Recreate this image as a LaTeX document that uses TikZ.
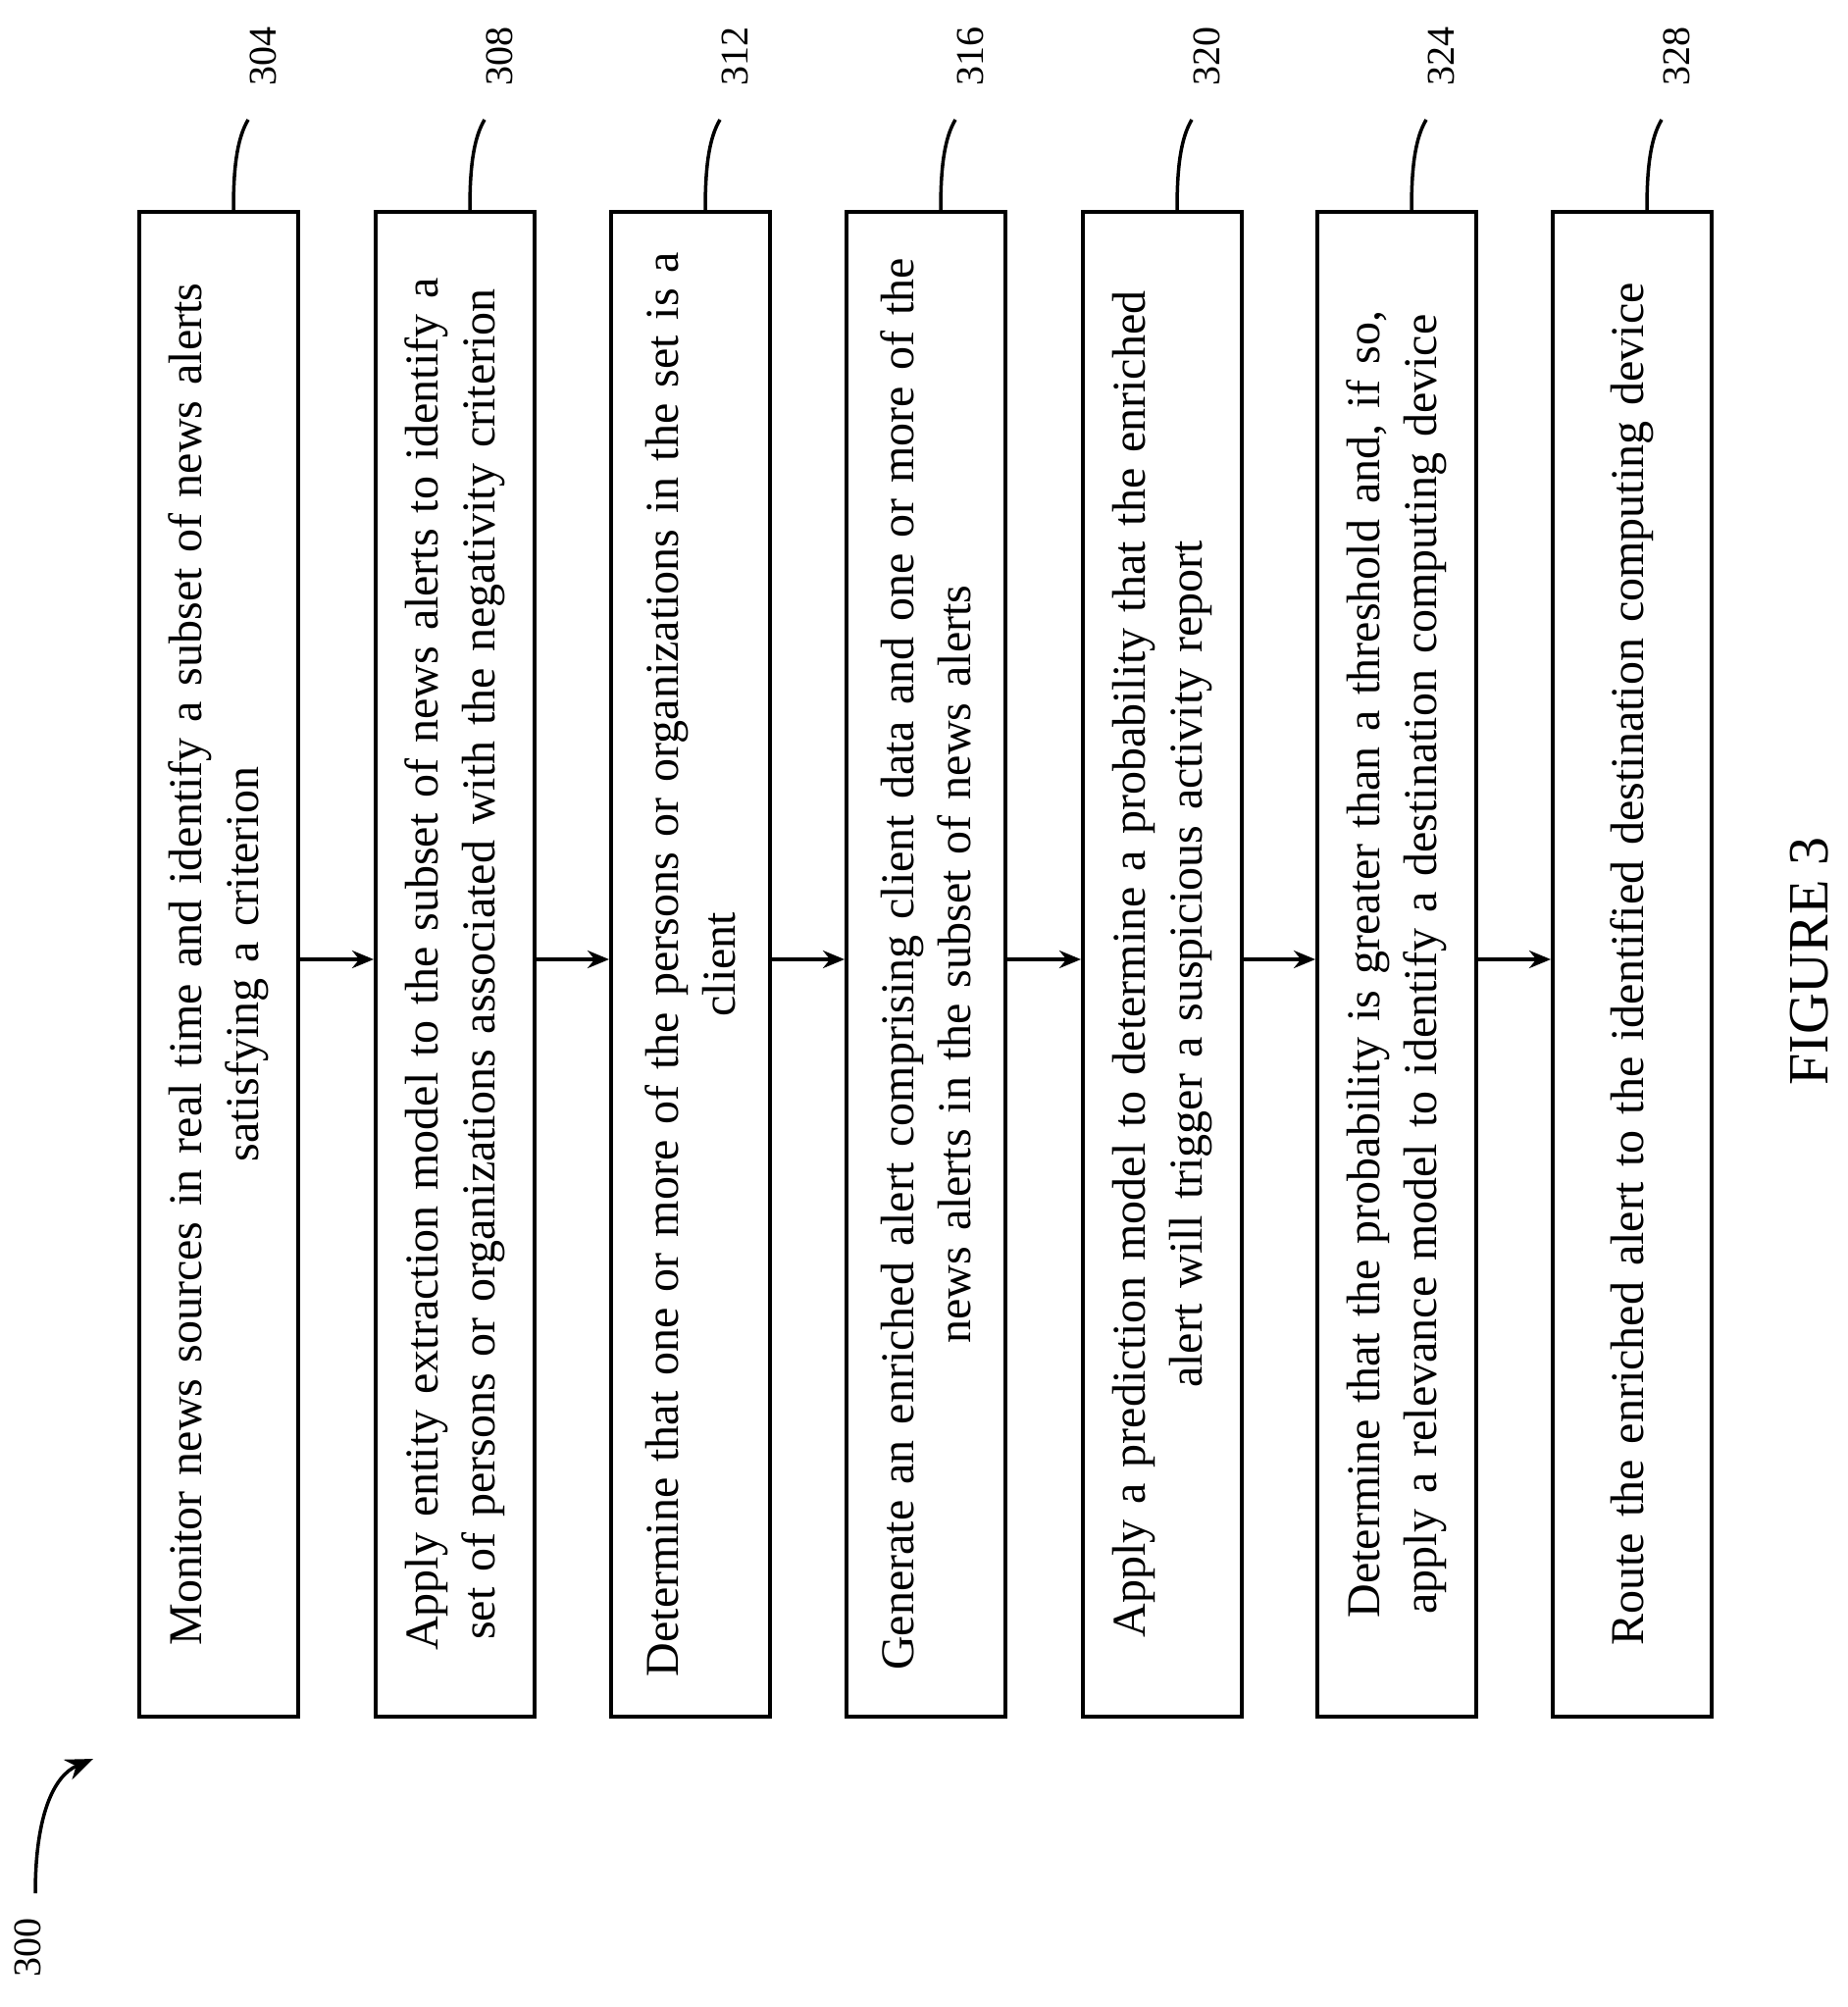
\documentclass[tikz,border=0pt]{standalone}
\usepackage{fontspec}
\setmainfont{Liberation Serif}
\usetikzlibrary{arrows.meta}
\begin{document}
\begin{tikzpicture}[x=1pt,y=-1pt,
  stepbox/.style={draw,line width=4pt,rotate=90,minimum width=1534pt,minimum height=162pt,text width=1500pt,align=center,font=\fontsize{48}{58}\selectfont,inner sep=0pt},
  flow/.style={line width=3.5pt,-{Stealth[length=22pt,width=18pt]}},
  lead/.style={line width=3.5pt},
  ref/.style={rotate=90,font=\fontsize{40}{48}\selectfont}]
\useasboundingbox (0,0) rectangle (1883,2046);
\node[stepbox] (b1) at (223,983) {Monitor news sources in real time and identify a subset of news alerts\\satisfying a criterion};
\node[stepbox] (b2) at (464,983) {Apply entity extraction model to the subset of news alerts to identify a\\set of persons or organizations associated with the negativity criterion};
\node[stepbox] (b3) at (704,983) {Determine that one or more of the persons or organizations in the set is a\\client};
\node[stepbox] (b4) at (944,983) {Generate an enriched alert comprising client data and one or more of the\\news alerts in the subset of news alerts};
\node[stepbox] (b5) at (1185,983) {Apply a prediction model to determine a probability that the enriched\\alert will trigger a suspicious activity report};
\node[stepbox] (b6) at (1424,983) {Determine that the probability is greater than a threshold and, if so,\\apply a relevance model to identify a destination computing device};
\node[stepbox] (b7) at (1664,983) {Route the enriched alert to the identified destination computing device};
\foreach \a/\b in {b1/b2,b2/b3,b3/b4,b4/b5,b5/b6,b6/b7}
  \draw[flow] (\a.south |- 0,978) -- (\b.north |- 0,978);
\foreach \b/\n in {b1/304,b2/308,b3/312,b4/316,b5/320,b6/324,b7/328}{
  \coordinate (t\b) at ([xshift=15pt]\b.east);
  \coordinate (e\b) at ([xshift=30pt,yshift=92pt]\b.east);
  \draw[lead] (t\b) .. controls ([yshift=40pt]t\b) and ([xshift=-12pt,yshift=-20pt]e\b) .. (e\b);
  \node[ref,anchor=east] (l\b) at ([xshift=45pt,yshift=190pt]\b.east) {\n};
}
\node[ref] (n300) at (28,1985) {300};
\coordinate (a0) at (36,1930);
\coordinate (a1) at (95,1793);
\draw[line width=3.5pt,-{Stealth[length=28pt,width=22pt]}] (a0) .. controls (36,1850) and (55,1810) .. (a1);
\node[rotate=90,font=\fontsize{58}{60}\selectfont] (fig) at (1845,980) {FIGURE 3};
\end{tikzpicture}
\end{document}
